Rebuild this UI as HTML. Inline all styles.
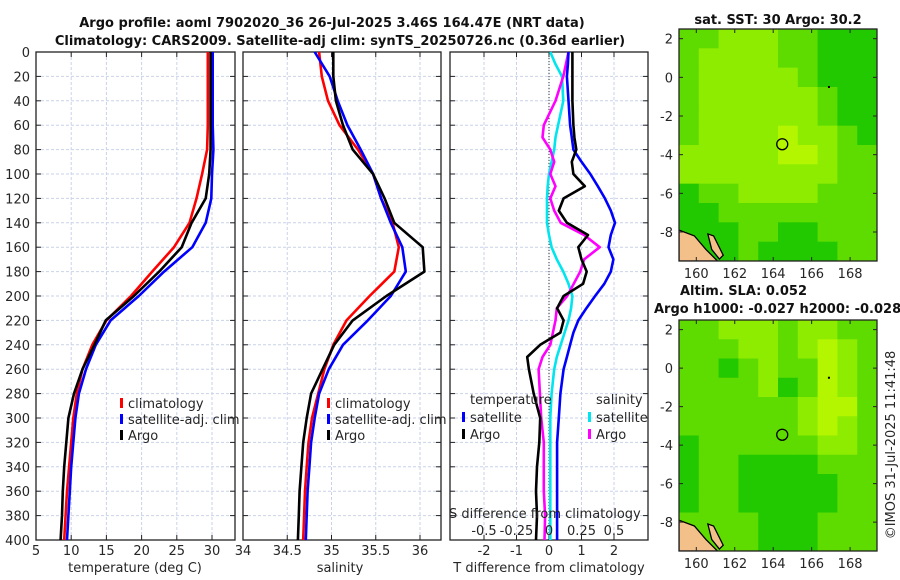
<!DOCTYPE html>
<html><head><meta charset="utf-8"><style>
html,body{margin:0;padding:0;background:#fff;}
svg{display:block;font-family:"DejaVu Sans","Liberation Sans",sans-serif;}
</style></head><body>
<svg id="c" width="900" height="580" viewBox="0 0 900 580"></svg>
<script>
const depths=[0,20,40,60,80,100,120,140,160,180,200,220,240,260,280,300,320,340,360,380,400];
const tempClim=[29.4,29.4,29.4,29.4,29.3,28.6,27.8,26.8,24.6,21.5,18.5,15.0,13.0,11.6,10.8,10.3,10.0,9.7,9.4,9.2,9.0];
const tempSat=[30.1,30.1,30.1,30.1,30.2,30.0,29.9,29.1,27.2,23.2,19.6,15.6,13.5,12.1,11.1,10.6,10.3,10.0,9.8,9.6,9.4];
const tempArgo=[29.8,29.8,29.8,29.8,29.8,29.6,29.1,27.1,25.7,22.5,18.9,14.9,13.3,11.6,10.4,9.6,9.3,9.0,8.8,8.7,8.5];
const salClim=[34.86,34.89,34.96,35.09,35.30,35.47,35.56,35.69,35.76,35.71,35.43,35.17,35.02,34.92,34.85,34.78,34.74,34.72,34.70,34.69,34.68];
const salSat=[34.81,34.98,35.07,35.18,35.33,35.47,35.56,35.67,35.80,35.84,35.67,35.41,35.13,34.97,34.86,34.81,34.77,34.75,34.73,34.72,34.71];
const salArgo=[35.02,35.02,35.05,35.13,35.24,35.47,35.60,35.71,36.03,36.05,35.62,35.24,35.03,34.90,34.77,34.72,34.68,34.66,34.64,34.63,34.62];
const diffDepths=[0,10,20,40,60,70,80,90,100,110,120,130,140,150,160,170,180,190,200,210,220,230,240,250,260,280,300,320,340,360,380,400];
const tDiffSat=[0.6,0.58,0.55,0.6,0.65,0.7,0.75,1.0,1.27,1.5,1.72,1.9,2.03,1.9,1.83,1.98,1.9,1.7,1.42,1.15,0.9,0.75,0.65,0.55,0.45,0.35,0.3,0.25,0.25,0.25,0.25,0.25];
const tDiffArgo=[0.72,0.72,0.72,0.72,0.75,0.78,0.84,0.7,0.75,1.1,0.45,0.3,0.55,1.2,0.9,1.0,1.16,1.05,0.45,0.25,0.45,0.35,-0.27,-0.67,-0.62,-0.47,-0.27,-0.3,-0.37,-0.4,-0.37,-0.4];
const sDiffSat=[0.01,0.05,0.1,0.11,0.07,0.05,0.04,0.02,0.0,-0.01,-0.015,-0.015,-0.015,0.0,0.02,0.06,0.11,0.15,0.18,0.17,0.15,0.12,0.09,0.06,0.04,0.02,0.01,0.01,0.01,0.01,0.01,0.01];
const sDiffArgo=[0.15,0.13,0.11,0.05,-0.04,-0.05,0.01,0.04,0.01,0.05,0.01,0.04,0.09,0.27,0.39,0.27,0.24,0.19,0.14,0.06,0.05,0.03,0.01,-0.05,-0.08,-0.07,-0.06,-0.04,-0.04,-0.04,-0.03,-0.035];
const depthTicks=[0,20,40,60,80,100,120,140,160,180,200,220,240,260,280,300,320,340,360,380,400];
const tempTicks=[5,10,15,20,25,30,35];
const salTicks=[34,34.5,35,35.5,36];
const tDiffTicks=[-2,-1,0,1,2];
const sDiffTicks=[-0.5,-0.25,0,0.25,0.5];
const latTicks=[2,0,-2,-4,-6,-8];
const lonTicks=[160,162,164,166,168];
const argoLon=164.47, argoLat=-3.46;
const sstGrid=[
[1,1,2,2,2,1,1,0,0,0],[1,2,2,2,2,1,1,0,0,0],[1,2,2,2,2,2,1,0,0,0],[1,2,2,2,2,2,2,1,0,0],
[1,2,2,2,2,2,2,1,0,0],[1,2,2,2,2,3,2,2,1,0],[2,2,2,2,2,3,3,2,1,1],[2,2,2,2,2,2,2,2,1,1],
[0,1,1,2,2,2,2,1,1,1],[0,0,1,1,1,1,1,1,1,1],[0,0,0,1,1,0,0,1,1,1],[0,0,0,1,0,0,0,0,1,1]];
const slaGrid=[
[1,1,2,2,2,1,2,2,1,1],[1,1,1,2,2,1,2,3,2,1],[1,1,0,1,2,1,1,3,2,1],[1,1,1,1,2,0,1,3,2,1],
[1,1,1,1,1,1,2,3,3,1],[1,1,1,1,1,1,2,3,2,1],[0,1,1,1,1,1,1,2,2,1],[0,1,1,0,0,0,0,1,1,1],
[0,1,1,0,0,0,0,0,1,1],[0,1,1,0,0,0,0,0,1,1],[1,1,1,1,0,0,0,1,1,1],[1,1,1,1,0,0,0,1,1,1]];

const NS='http://www.w3.org/2000/svg';
const svg=document.getElementById('c');
function el(tag,attrs,parent,txt){const e=document.createElementNS(NS,tag);for(const k in attrs)e.setAttribute(k,attrs[k]);if(txt!==undefined)e.textContent=txt;(parent||svg).appendChild(e);return e;}
const Y0=52,Y1=540;
const yD=d=>Y0+(d/400)*(Y1-Y0);
function xs(x0,x1,v0,v1){return v=>x0+(v-v0)/(v1-v0)*(x1-x0);}
const P1={x0:36,x1:235},P2={x0:243,x1:441},P3={x0:450,x1:648};
const xT=xs(36,212,5,30), xS=xs(243,420,34,36), xTd=xs(549,614,0,2), xSd=xs(549,614,0,0.5);

function panel(P,name,xTicksArr,xf,labels){
  const g=el('g',{},svg);
  
  
  depthTicks.forEach(d=>{if(d>0&&d<400){const l=el('line',{x1:P.x0,x2:P.x1,y1:yD(d),y2:yD(d),stroke:'#c9d2ea','stroke-width':1,'stroke-dasharray':'3,2'},g);}
    el('line',{x1:P.x0,x2:P.x0+5,y1:yD(d),y2:yD(d),stroke:'#222'},g);el('line',{x1:P.x1,x2:P.x1-5,y1:yD(d),y2:yD(d),stroke:'#222'},g);});
  xTicksArr.forEach(v=>{const x=xf(v);if(x>P.x0+1&&x<P.x1-1){const l=el('line',{x1:x,x2:x,y1:Y0,y2:Y1,stroke:'#c9d2ea','stroke-width':1,'stroke-dasharray':'3,2'},g);}
    if(x>=P.x0-1&&x<=P.x1+6){el('line',{x1:x,x2:x,y1:Y1,y2:Y1-5,stroke:'#222'},g);el('line',{x1:x,x2:x,y1:Y0,y2:Y0+5,stroke:'#222'},g);
    if(labels){const t=el('text',{x:x,y:555,'font-size':13,'text-anchor':'middle',fill:'#262626'},g,String(v));}}});
  const b=el('rect',{x:P.x0,y:Y0,width:P.x1-P.x0,height:Y1-Y0,fill:'none',stroke:'#222','stroke-width':1.3},g);
  
  return g;
}
function line(g,xf,vals,ds,color,name,w){
  const pts=vals.map((v,i)=>xf(v).toFixed(1)+','+yD(ds[i]).toFixed(1)).join(' ');
  const p=el('polyline',{points:pts,fill:'none',stroke:color,'stroke-width':w||2.6,'stroke-linejoin':'round'},g);
  
}
function legend(g,x,y,color,label,name){
  const r=el('rect',{x:x,y:y-10,width:3,height:10,fill:color},g);
  const t=el('text',{x:x+8,y:y,'font-size':13,fill:'#262626'},g,label);
  
}
// titles
let t=el('text',{x:332,y:27,'font-size':13,'font-weight':'bold','text-anchor':'middle',fill:'#111'},svg,'Argo profile: aoml 7902020_36 26-Jul-2025 3.46S 164.47E (NRT data)');

t=el('text',{x:340,y:45,'font-size':13,'font-weight':'bold','text-anchor':'middle',fill:'#111'},svg,'Climatology: CARS2009. Satellite-adj clim: synTS_20250726.nc (0.36d earlier)');


// panel 1
const g1=panel(P1,'temperature-panel',tempTicks,xT,true);
depthTicks.forEach(d=>{const tt=el('text',{x:30,y:yD(d)+5,'font-size':13,'text-anchor':'end',fill:'#262626'},svg,String(d));});
line(g1,xT,tempClim,depths,'#ff0000','temp-climatology-line');
line(g1,xT,tempSat,depths,'#0000ff','temp-satellite-line');
line(g1,xT,tempArgo,depths,'#000000','temp-argo-line');
legend(g1,120,408,'#ff0000','climatology','legend-climatology');
legend(g1,120,424,'#0000ff','satellite-adj. clim','legend-satellite-adj');
legend(g1,120,440,'#000000','Argo','legend-argo');
t=el('text',{x:135,y:572,'font-size':13,'text-anchor':'middle',fill:'#262626'},svg,'temperature (deg C)');

// panel 2
const g2=panel(P2,'salinity-panel',salTicks,xS,true);
line(g2,xS,salClim,depths,'#ff0000','sal-climatology-line');
line(g2,xS,salSat,depths,'#0000ff','sal-satellite-line');
line(g2,xS,salArgo,depths,'#000000','sal-argo-line');
legend(g2,327,408,'#ff0000','climatology','legend-climatology');
legend(g2,327,424,'#0000ff','satellite-adj. clim','legend-satellite-adj');
legend(g2,327,440,'#000000','Argo','legend-argo');
t=el('text',{x:340,y:572,'font-size':13,'text-anchor':'middle',fill:'#262626'},svg,'salinity');

// panel 3
const g3=panel(P3,'difference-panel',tDiffTicks,xTd,true);
el('line',{x1:xTd(0),x2:xTd(0),y1:Y0,y2:Y1,stroke:'#333','stroke-width':1,'stroke-dasharray':'1,2'},g3);
line(g3,xSd,sDiffSat,diffDepths,'#00e5ee','s-diff-satellite-line');
line(g3,xSd,sDiffArgo,diffDepths,'#ff00ff','s-diff-argo-line');
line(g3,xTd,tDiffSat,diffDepths,'#0000ff','t-diff-satellite-line');
line(g3,xTd,tDiffArgo,diffDepths,'#000000','t-diff-argo-line');
t=el('text',{x:470,y:404,'font-size':13,fill:'#262626'},g3,'temperature');
legend(g3,462,422,'#0000ff','satellite','legend-t-satellite');
legend(g3,462,439,'#000000','Argo','legend-t-argo');
t=el('text',{x:596,y:404,'font-size':13,fill:'#262626'},g3,'salinity');
legend(g3,588,422,'#00e5ee','satellite','legend-s-satellite');
legend(g3,588,439,'#ff00ff','Argo','legend-s-argo');
t=el('text',{x:449,y:518,'font-size':13,fill:'#262626'},g3,'S difference from climatology');
sDiffTicks.forEach(v=>{const tt=el('text',{x:xSd(v),y:535,'font-size':13,'text-anchor':'middle',fill:'#262626'},g3,String(v));});
t=el('text',{x:549,y:572,'font-size':13,'text-anchor':'middle',fill:'#262626'},svg,'T difference from climatology');

// maps
const palette=['#22c800','#5edc00','#8eec00','#b4f500'];
function map(top,bot,grid,name,dotSmall){
  const M={x0:679,x1:877,y0:top,y1:bot};
  const lonF=xs(M.x0,M.x1,159.1,169.4), latF=v=>M.y0+(2.5-v)/12*(M.y1-M.y0);
  const g=el('g',{},svg);
  
  const cid='clip'+top;
  const cp=el('clipPath',{id:cid},g);el('rect',{x:M.x0,y:M.y0,width:M.x1-M.x0,height:M.y1-M.y0},cp);
  const cg=el('g',{'clip-path':'url(#'+cid+')'},g);
  const cols=grid[0].length, rows=grid.length;
  grid.forEach((row,r)=>row.forEach((v,c)=>{
    const lon0=159.1+c*(10.3/cols), lat0=2.5-r*(12/rows);
    const x=lonF(lon0), y=latF(lat0);
    const cell=el('rect',{x:x,y:y,width:lonF(lon0+10.3/cols)-x+0.5,height:latF(lat0-12/rows)-y+0.5,fill:palette[v]},cg);
    
  }));
  // land
  const l1=el('path',{d:`M${lonF(159.1)} ${latF(-7.9)} L${lonF(159.9)} ${latF(-8.2)} L${lonF(160.5)} ${latF(-8.9)} L${lonF(161.1)} ${latF(-9.5)} L${lonF(159.1)} ${latF(-9.5)} Z`,fill:'#f4c08a',stroke:'#000','stroke-width':1.3},cg);
  
  const l2=el('path',{d:`M${lonF(160.6)} ${latF(-8.1)} L${lonF(160.9)} ${latF(-8.2)} L${lonF(161.4)} ${latF(-9.2)} L${lonF(161.2)} ${latF(-9.4)} L${lonF(160.8)} ${latF(-8.9)} Z`,fill:'#f4c08a',stroke:'#000','stroke-width':1.3},cg);
  
  const m=el('circle',{cx:lonF(argoLon),cy:latF(argoLat),r:5.5,fill:'none',stroke:'#000','stroke-width':1.3},g);
  
  el('rect',{x:lonF(166.9)-1,y:latF(-0.5)-1,width:2,height:2,fill:'#000'},g);
  const fr=el('rect',{x:M.x0,y:M.y0,width:M.x1-M.x0,height:M.y1-M.y0,fill:'none',stroke:'#222','stroke-width':1.3},g);
  
  latTicks.forEach(v=>{const y=latF(v);el('line',{x1:M.x0,x2:M.x0+4,y1:y,y2:y,stroke:'#222'},g);el('line',{x1:M.x1,x2:M.x1-4,y1:y,y2:y,stroke:'#222'},g);
    const tt=el('text',{x:673,y:y+5,'font-size':13,'text-anchor':'end',fill:'#262626'},g,String(v));});
  lonTicks.forEach(v=>{const x=lonF(v);el('line',{x1:x,x2:x,y1:M.y1,y2:M.y1-4,stroke:'#222'},g);el('line',{x1:x,x2:x,y1:M.y0,y2:M.y0+4,stroke:'#222'},g);
    const tt=el('text',{x:x,y:M.y1+17,'font-size':13,'text-anchor':'middle',fill:'#262626'},g,String(v));});
}
t=el('text',{x:778,y:24,'font-size':13,'font-weight':'bold','text-anchor':'middle',fill:'#111'},svg,'sat. SST: 30 Argo: 30.2');
map(29,261,sstGrid,'sst-map');
t=el('text',{x:680,y:295,'font-size':13,'font-weight':'bold',fill:'#111'},svg,'Altim. SLA: 0.052');
t=el('text',{x:654,y:313,'font-size':13,'font-weight':'bold',fill:'#111'},svg,'Argo h1000: -0.027 h2000: -0.028');
map(320,551,slaGrid,'sla-map');
t=el('text',{x:0,y:0,'font-size':13,'text-anchor':'middle',fill:'#262626',transform:'translate(895,445) rotate(-90)'},svg,'©IMOS 31-Jul-2025 11:41:48');
</script>
</body></html>
